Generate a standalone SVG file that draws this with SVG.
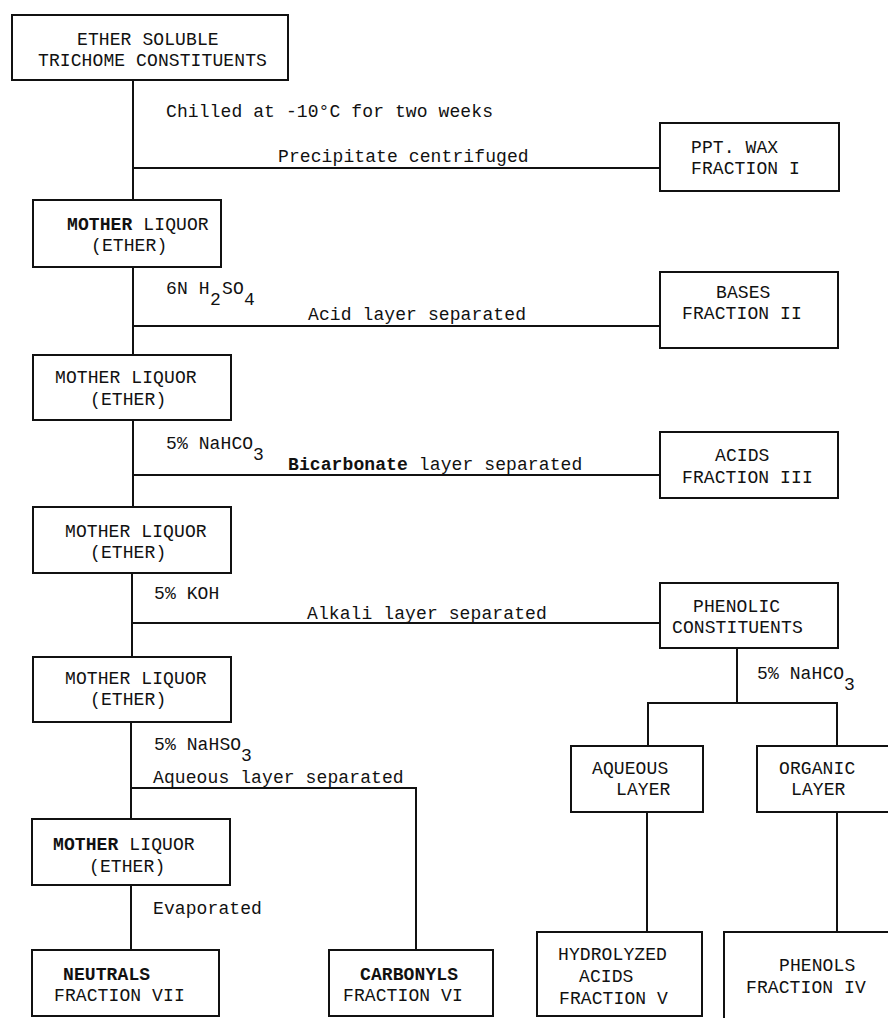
<svg xmlns="http://www.w3.org/2000/svg" width="888" height="1018" viewBox="0 0 888 1018">
<style>
.b{fill:#fff;stroke:#111;stroke-width:2}
.c line,.c polyline{stroke:#111;stroke-width:2;fill:none}
text{font-family:"Liberation Mono","DejaVu Sans Mono",monospace;font-size:18px;letter-spacing:0.1px;fill:#111}
.bd{font-weight:bold}
</style>
<rect width="888" height="1018" fill="#fff"/>
<g class="c" id="connectors">
<line x1="133" y1="80" x2="133" y2="200"/>
<line x1="133" y1="168" x2="660" y2="168"/>
<line x1="133" y1="267" x2="133" y2="355"/>
<line x1="133" y1="326" x2="660" y2="326"/>
<line x1="133" y1="420" x2="133" y2="507"/>
<line x1="133" y1="475" x2="660" y2="475"/>
<line x1="132" y1="573" x2="132" y2="657"/>
<line x1="132" y1="623" x2="660" y2="623"/>
<line x1="131" y1="722" x2="131" y2="819"/>
<polyline points="131,788 416,788 416,950"/>
<line x1="131" y1="885" x2="131" y2="950"/>
<line x1="737" y1="648" x2="737" y2="703"/>
<polyline points="648,746 648,703 837,703 837,746"/>
<line x1="647" y1="812" x2="647" y2="932"/>
<line x1="837" y1="812" x2="837" y2="932"/>
</g>
<g id="labels">
<text x="166" y="117">Chilled at -10°C for two weeks</text>
<text x="278" y="162">Precipitate centrifuged</text>
<text x="166" y="294">6N H</text><text x="210" y="305">2</text><text x="222" y="294">SO</text><text x="244" y="305">4</text>
<text x="308" y="320">Acid layer separated</text>
<text x="166" y="449">5% NaHCO</text><text x="253" y="460">3</text>
<text x="288" y="470"><tspan class="bd">Bicarbonate</tspan> layer separated</text>
<text x="154" y="599">5% KOH</text>
<text x="307" y="619">Alkali layer separated</text>
<text x="757" y="679">5% NaHCO</text><text x="844" y="690">3</text>
<text x="154" y="750">5% NaHSO</text><text x="241" y="761">3</text>
<text x="153" y="783">Aqueous layer separated</text>
<text x="153" y="914">Evaporated</text>
</g>
<g id="n-ether">
<rect class="b" x="12" y="15" width="276" height="65"/>
<text x="77" y="45">ETHER SOLUBLE</text>
<text x="38" y="66">TRICHOME CONSTITUENTS</text>
</g>
<g id="n-wax">
<rect class="b" x="660" y="123" width="179" height="68"/>
<text x="691" y="153">PPT. WAX</text>
<text x="691" y="174">FRACTION I</text>
</g>
<g id="n-ml1">
<rect class="b" x="33" y="200" width="188" height="67"/>
<text x="67" y="230"><tspan class="bd">MOTHER</tspan> LIQUOR</text>
<text x="91" y="251">(ETHER)</text>
</g>
<g id="n-bases">
<rect class="b" x="660" y="272" width="178" height="76"/>
<text x="716" y="298">BASES</text>
<text x="682" y="319">FRACTION II</text>
</g>
<g id="n-ml2">
<rect class="b" x="33" y="355" width="198" height="65"/>
<text x="55" y="383">MOTHER LIQUOR</text>
<text x="90" y="405">(ETHER)</text>
</g>
<g id="n-acids">
<rect class="b" x="660" y="432" width="178" height="66"/>
<text x="715" y="461">ACIDS</text>
<text x="682" y="483">FRACTION III</text>
</g>
<g id="n-ml3">
<rect class="b" x="33" y="507" width="198" height="66"/>
<text x="65" y="537">MOTHER LIQUOR</text>
<text x="90" y="558">(ETHER)</text>
</g>
<g id="n-phenolic">
<rect class="b" x="660" y="583" width="178" height="65"/>
<text x="693" y="612">PHENOLIC</text>
<text x="672" y="633">CONSTITUENTS</text>
</g>
<g id="n-ml4">
<rect class="b" x="33" y="657" width="198" height="65"/>
<text x="65" y="684">MOTHER LIQUOR</text>
<text x="90" y="705">(ETHER)</text>
</g>
<g id="n-aqueous">
<rect class="b" x="571" y="746" width="132" height="66"/>
<text x="592" y="774">AQUEOUS</text>
<text x="616" y="795">LAYER</text>
</g>
<g id="n-organic">
<rect class="b" x="757" y="746" width="140" height="66"/>
<text x="779" y="774">ORGANIC</text>
<text x="791" y="795">LAYER</text>
</g>
<g id="n-ml5">
<rect class="b" x="32" y="819" width="198" height="66"/>
<text x="53" y="850"><tspan class="bd">MOTHER</tspan> LIQUOR</text>
<text x="89" y="872">(ETHER)</text>
</g>
<g id="n-neutrals">
<rect class="b" x="32" y="950" width="187" height="66"/>
<text x="63" y="980" class="bd">NEUTRALS</text>
<text x="54" y="1001">FRACTION VII</text>
</g>
<g id="n-carbonyls">
<rect class="b" x="329" y="950" width="164" height="66"/>
<text x="360" y="980" class="bd">CARBONYLS</text>
<text x="343" y="1001">FRACTION VI</text>
</g>
<g id="n-hydrolyzed">
<rect class="b" x="537" y="932" width="165" height="84"/>
<text x="558" y="960">HYDROLYZED</text>
<text x="579" y="982">ACIDS</text>
<text x="559" y="1004">FRACTION V</text>
</g>
<g id="n-phenols">
<rect class="b" x="724" y="932" width="170" height="90"/>
<text x="779" y="971">PHENOLS</text>
<text x="746" y="993">FRACTION IV</text>
</g>
</svg>
